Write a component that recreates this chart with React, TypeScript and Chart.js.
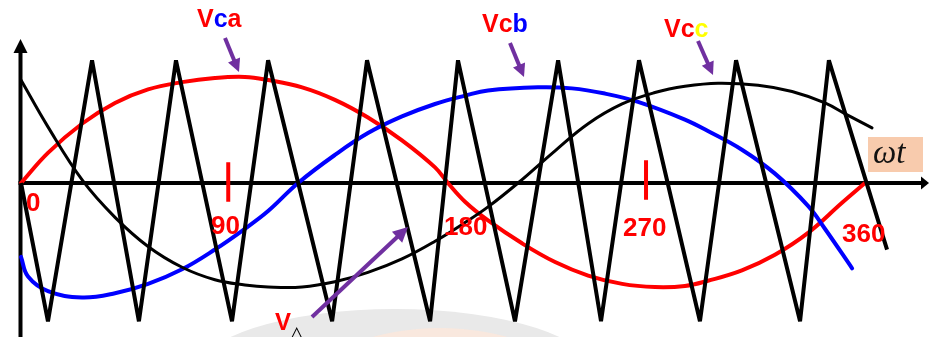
import React, { useEffect, useRef } from 'react';
import { Chart, registerables } from 'chart.js';

Chart.register(...registerables);

const W = 929;
const H = 337;

// angle in degrees (ωt), value in per-unit of the reference amplitude
const vcaPoints: [number, number][] = [
  [0, 0], [11.5, 0.29], [26.0, 0.57], [40.1, 0.77], [54.2, 0.90], [68.7, 0.97], [82.7, 1.01],
  [95.5, 1.02], [105.4, 0.99], [119.9, 0.92], [133.9, 0.80], [148.0, 0.63], [162.5, 0.41],
  [176.6, 0.15], [182.1, 0], [189.4, -0.18], [199.2, -0.36], [213.7, -0.58], [227.8, -0.76],
  [241.9, -0.89], [256.4, -0.97], [270.4, -1.0], [283.2, -0.99], [293.0, -0.94], [307.5, -0.84],
  [321.6, -0.69], [335.7, -0.48], [350.2, -0.19], [360, 0],
];

const vcbPoints: [number, number][] = [
  [0, -0.71], [3.0, -0.90], [11.5, -1.04], [26.0, -1.10], [40.1, -1.06], [54.2, -0.97],
  [68.7, -0.83], [82.7, -0.64], [95.5, -0.44], [105.4, -0.27], [118.2, 0], [133.9, 0.27],
  [148.0, 0.48], [162.5, 0.64], [176.6, 0.76], [189.4, 0.84], [199.2, 0.89], [220.5, 0.92],
  [235.0, 0.91], [249.1, 0.86], [263.2, 0.78], [283.2, 0.61], [293.0, 0.50], [307.5, 0.32],
  [321.6, 0.09], [335.7, -0.22], [342.9, -0.44], [354.5, -0.82],
];

const vccPoints: [number, number][] = [
  [0, 0.99], [11.5, 0.54], [26.4, 0.02], [40.1, -0.33], [54.2, -0.61], [68.7, -0.81], [82.7, -0.93],
  [95.5, -0.98], [105.4, -1.0], [119.9, -1.0], [133.9, -0.95], [148.0, -0.86], [162.5, -0.73],
  [176.6, -0.56], [189.4, -0.38], [199.2, -0.23], [212.0, 0], [227.8, 0.31], [241.9, 0.57],
  [256.4, 0.76], [270.4, 0.87], [283.2, 0.93], [297.3, 0.96], [314.4, 0.94], [328.9, 0.88],
  [342.9, 0.77], [352.8, 0.65], [363.0, 0.53],
];

const carrierPoints: [number, number][] = [
  [0, 0], [11.5, -1.33], [30.3, 1.18], [50.3, -1.33], [66.1, 1.18], [90.0, -1.33], [105.4, 1.18],
  [132.7, -1.33], [147.6, 1.18], [174.5, -1.33], [186.4, 1.18], [210.7, -1.33], [229.1, 1.18],
  [247.4, -1.33], [263.6, 1.18], [289.6, -1.33], [305.0, 1.18], [332.3, -1.33], [344.6, 1.18],
  [369.4, -0.64],
];

const tickMarkDeg = [88.4, 266.6];
const tickMarkTop = [0.2, 0.22];
const tickMarkBottom = [-0.18, -0.16];
const tickLabels = ['0', '90', '180', '270', '360'];

const RED = '#ff0000';
const BLUE = '#0000ff';
const PURPLE = '#7030a0';
const YELLOW = '#ffff00';

const toXY = (arr: [number, number][]) => arr.map(([x, y]) => ({ x, y }));

function drawArrow(ctx: CanvasRenderingContext2D, x1: number, y1: number, x2: number, y2: number, color: string, lw: number, headLen: number, headHalf: number) {
  const ang = Math.atan2(y2 - y1, x2 - x1);
  const bx = x2 - headLen * Math.cos(ang);
  const by = y2 - headLen * Math.sin(ang);
  ctx.save();
  ctx.strokeStyle = color;
  ctx.fillStyle = color;
  ctx.lineWidth = lw;
  ctx.lineCap = 'butt';
  ctx.beginPath();
  ctx.moveTo(x1, y1);
  ctx.lineTo(bx + Math.cos(ang), by + Math.sin(ang));
  ctx.stroke();
  ctx.beginPath();
  ctx.moveTo(x2, y2);
  ctx.lineTo(bx + headHalf * Math.sin(ang), by - headHalf * Math.cos(ang));
  ctx.lineTo(bx - headHalf * Math.sin(ang), by + headHalf * Math.cos(ang));
  ctx.closePath();
  ctx.fill();
  ctx.restore();
}

function drawColored(ctx: CanvasRenderingContext2D, x: number, y: number, parts: [string, string][], font: string) {
  ctx.save();
  ctx.font = font;
  ctx.textBaseline = 'alphabetic';
  ctx.textAlign = 'left';
  let cx = x;
  for (const [t, c] of parts) {
    ctx.fillStyle = c;
    ctx.fillText(t, cx, y);
    cx += ctx.measureText(t).width;
  }
  ctx.restore();
}

export default function App() {
  const ref = useRef<HTMLCanvasElement>(null);

  useEffect(() => {
    if (!ref.current) return;

    const overlay = {
      id: 'overlay',
      beforeDatasetsDraw(chart: any) {
        const ctx: CanvasRenderingContext2D = chart.ctx;
        const xs = chart.scales.x;
        const ys = chart.scales.y;
        const x0 = xs.getPixelForValue(0) - 0.5;
        const y0 = ys.getPixelForValue(0);
        ctx.save();
        // faint watermark at the bottom
        ctx.fillStyle = '#e9e9e9';
        ctx.beginPath();
        ctx.ellipse(395, 374, 200, 65, 0, 0, Math.PI * 2);
        ctx.fill();
        ctx.fillStyle = 'rgba(252, 232, 220, 0.85)';
        ctx.beginPath();
        ctx.ellipse(440, 376, 115, 48, 0, 0, Math.PI * 2);
        ctx.fill();
        // axes
        ctx.strokeStyle = '#000';
        ctx.fillStyle = '#000';
        ctx.lineWidth = 4;
        ctx.beginPath();
        ctx.moveTo(x0, H);
        ctx.lineTo(x0, 52);
        ctx.stroke();
        ctx.beginPath();
        ctx.moveTo(x0 - 7, 53);
        ctx.lineTo(x0 + 7, 53);
        ctx.lineTo(x0, 39);
        ctx.closePath();
        ctx.fill();
        ctx.beginPath();
        ctx.moveTo(x0 - 2, y0);
        ctx.lineTo(922, y0);
        ctx.stroke();
        ctx.beginPath();
        ctx.moveTo(921, y0 - 6.5);
        ctx.lineTo(921, y0 + 6.5);
        ctx.lineTo(929, y0);
        ctx.closePath();
        ctx.fill();
        ctx.restore();
      },
      afterDatasetsDraw(chart: any) {
        const ctx: CanvasRenderingContext2D = chart.ctx;
        const lblFont = 'bold 25px "Liberation Sans", Arial, sans-serif';
        const numFont = 'bold 26px "Liberation Sans", Arial, sans-serif';

        // tick labels
        const tickPos: [number, number][] = [[26, 211], [211, 234], [444, 235], [623, 236], [842, 242]];
        ctx.save();
        ctx.font = numFont;
        ctx.fillStyle = RED;
        tickLabels.forEach((t, i) => ctx.fillText(t, tickPos[i][0], tickPos[i][1]));
        ctx.restore();

        // series callouts
        drawColored(ctx, 197, 27, [['V', RED], ['c', BLUE], ['a', RED]], lblFont);
        drawColored(ctx, 482, 32, [['V', RED], ['c', RED], ['b', BLUE]], lblFont);
        drawColored(ctx, 664, 37, [['V', RED], ['c', RED], ['c', YELLOW]], lblFont);
        drawArrow(ctx, 225, 38, 239, 72, PURPLE, 4, 13, 6.5);
        drawArrow(ctx, 510, 43, 524, 77, PURPLE, 4, 13, 6.5);
        drawArrow(ctx, 698, 41, 713, 75, PURPLE, 4, 13, 6.5);

        // carrier callout
        drawColored(ctx, 275, 330, [['V', RED]], 'bold 24px "Liberation Sans", Arial, sans-serif');
        ctx.save();
        ctx.font = '20px "DejaVu Sans", sans-serif';
        ctx.fillStyle = '#000';
        ctx.textBaseline = 'top';
        ctx.fillText('\u25B3', 289, 325);
        ctx.restore();
        drawArrow(ctx, 312, 317, 408, 227, PURPLE, 4, 15, 7.5);

        // ωt box
        ctx.save();
        ctx.fillStyle = '#f8cbad';
        ctx.fillRect(868, 137, 55, 35);
        ctx.font = 'italic 33px "Liberation Serif", "Times New Roman", serif';
        ctx.fillStyle = '#111';
        ctx.fillText('\u03C9t', 873, 163);
        ctx.restore();
      },
    };

    const lineBase = { pointRadius: 0, fill: false, tension: 0.4 };

    const chart = new Chart(ref.current, {
      type: 'line',
      data: {
        datasets: [
          { label: 'V△', data: toXY(carrierPoints), borderColor: '#000', borderWidth: 4, pointRadius: 0, tension: 0, borderJoinStyle: 'bevel', fill: false },
          { label: 'Vcc', data: toXY(vccPoints), borderColor: '#000', borderWidth: 3, borderCapStyle: 'round', ...lineBase },
          { label: 'Vcb', data: toXY(vcbPoints), borderColor: BLUE, borderWidth: 4, borderCapStyle: 'round', ...lineBase },
          { label: 'Vca', data: toXY(vcaPoints), borderColor: RED, borderWidth: 4, borderCapStyle: 'round', ...lineBase },
          ...tickMarkDeg.map((d, i) => ({
            label: 'tick' + i,
            data: [{ x: d, y: tickMarkTop[i] }, { x: d, y: tickMarkBottom[i] }],
            borderColor: RED,
            borderWidth: 4,
            pointRadius: 0,
            tension: 0,
            fill: false,
          })),
        ],
      },
      options: {
        animation: false,
        responsive: false,
        devicePixelRatio: 1,
        layout: { padding: 0 },
        plugins: { legend: { display: false }, tooltip: { enabled: false }, title: { display: false } },
        scales: {
          x: { type: 'linear', min: -8.957, max: 387.3, display: false },
          y: { type: 'linear', min: -1.481, max: 1.76, display: false },
        },
      },
      plugins: [overlay],
    } as any);

    return () => chart.destroy();
  }, []);

  return (
    <div style={{ position: 'fixed', left: 0, top: 0, width: W, height: H, background: '#fff' }}>
      <canvas ref={ref} width={W} height={H} style={{ display: 'block', width: W, height: H }} />
    </div>
  );
}
